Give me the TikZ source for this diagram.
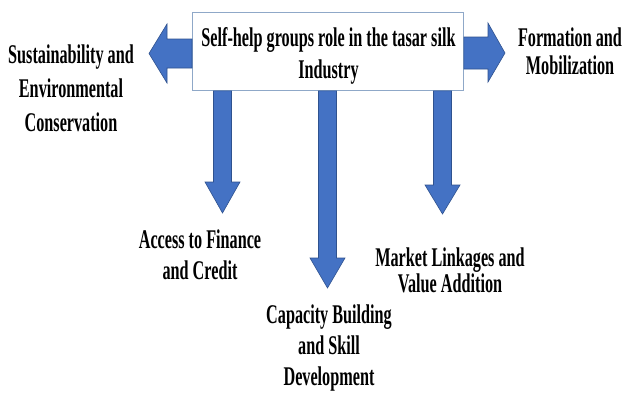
\documentclass[tikz,border=0pt]{standalone}
\usepackage{fontspec}
\setmainfont{Liberation Serif}[FakeStretch=0.6]
\definecolor{arrowfill}{HTML}{4472C4}
\definecolor{arrowline}{HTML}{2F528F}
\definecolor{boxline}{HTML}{8FA8C8}
\tikzset{
  blk/.style={fill=arrowfill, draw=arrowline, line width=0.6pt, line join=miter},
  lbl/.style={font=\bfseries\fontsize{27}{#1}\selectfont, align=center, inner sep=0pt, anchor=north},
  lbl/.default=32
}
\begin{document}
\begin{tikzpicture}[x=1pt,y=-1pt]
\useasboundingbox[fill=white] (0,0) rectangle (624,394);
% central box
\node[draw=boxline, line width=0.8pt, fill=white, minimum width=271pt, minimum height=78pt, inner sep=0pt, anchor=north west] (box) at (192,12) {};
% arrow tips
\coordinate (tipL) at (149,53.5);
\coordinate (tipR) at (505,53);
\coordinate (tipA) at (222.5,213);
\coordinate (tipC) at (327.5,288);
\coordinate (tipM) at (442.5,214);
% left arrow
\draw[blk] (box.west |- 0,39) -- (167,39) -- (167,24) -- (tipL) -- (167,83) -- (167,68) -- (box.west |- 0,68) -- cycle;
% right arrow
\draw[blk] (box.east |- 0,37) -- (488,37) -- (488,23) -- (tipR) -- (488,82) -- (488,69) -- (box.east |- 0,69) -- cycle;
% down arrows
\draw[blk] (box.south -| 213.5,0) -- (213.5,182) -- (205,182) -- (tipA) -- (240,182) -- (231.5,182) -- (box.south -| 231.5,0) -- cycle;
\draw[blk] (box.south -| 318.5,0) -- (318.5,258) -- (310,258) -- (tipC) -- (345,258) -- (336.5,258) -- (box.south -| 336.5,0) -- cycle;
\draw[blk] (box.south -| 433.5,0) -- (433.5,185) -- (425,185) -- (tipM) -- (460,185) -- (451.5,185) -- (box.south -| 451.5,0) -- cycle;
% texts
\node[lbl=32] (title) at (328.5,27) {Self-help groups role in the tasar silk\\Industry};
\node[lbl=34] (sust) at (71,45) {Sustainability and\\Environmental\\Conservation};
\node[lbl=28] (form) at (570,28) {Formation and\\Mobilization};
\node[lbl=31] (acc) at (200,230) {Access to Finance\\and Credit};
\node[lbl=31] (cap) at (329,305) {Capacity Building\\and Skill\\Development};
\node[lbl=26] (mkt) at (450,248) {Market Linkages and\\Value Addition};
\end{tikzpicture}
\end{document}
